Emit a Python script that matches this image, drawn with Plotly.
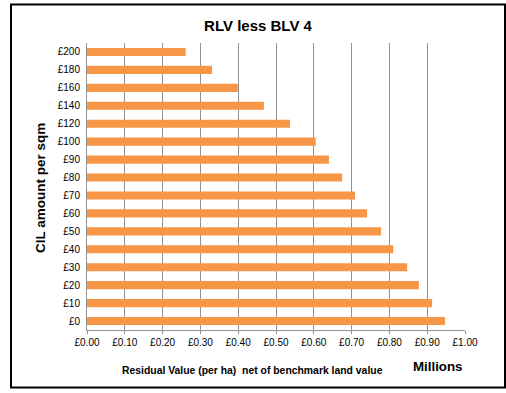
import plotly.graph_objects as go

categories = ["£0", "£10", "£20", "£30", "£40", "£50", "£60", "£70", "£80", "£90",
              "£100", "£120", "£140", "£160", "£180", "£200"]
values = [0.947, 0.913, 0.878, 0.847, 0.810, 0.778, 0.741, 0.709, 0.675, 0.640,
          0.605, 0.537, 0.468, 0.399, 0.331, 0.261]
x_ticks = [0.0, 0.1, 0.2, 0.3, 0.4, 0.5, 0.6, 0.7, 0.8, 0.9, 1.0]
x_tick_labels = ["£0.00", "£0.10", "£0.20", "£0.30", "£0.40", "£0.50", "£0.60",
                 "£0.70", "£0.80", "£0.90", "£1.00"]

L, R, T, B = 87, 465, 43, 330
W, H = 506, 393

def px(x):
    return (x - L) / (R - L)

def py(y):
    return (B - y) / (B - T)

fig = go.Figure(go.Bar(
    x=values, y=categories, orientation="h",
    marker=dict(color="#F79646", line=dict(width=0)),
))

fig.update_layout(
    width=W, height=H,
    margin=dict(l=L, r=W - R, t=T, b=H - B),
    paper_bgcolor="white", plot_bgcolor="white",
    bargap=0.55,
    showlegend=False,
    font=dict(family="Liberation Sans, Arial, sans-serif", color="#000000"),
    title=dict(text="<b>RLV less BLV 4</b>", x=0.5 * (11 + 505) / W, xanchor="center",
               y=1 - 26 / H, yanchor="middle",
               font=dict(size=15, family="Liberation Sans, Arial, sans-serif", color="#000")),
    xaxis=dict(
        range=[0, 1.0], tickvals=x_ticks, ticktext=x_tick_labels,
        showgrid=True, gridcolor="#929292", gridwidth=1,
        showline=True, linecolor="#929292", linewidth=1,
        ticks="outside", ticklen=3, tickcolor="#929292",
        tickfont=dict(size=10, color="#000",
                      family="Liberation Sans Narrow, Arial Narrow, Liberation Sans, sans-serif"),
        zeroline=False, fixedrange=True,
    ),
    yaxis=dict(
        categoryorder="array", categoryarray=categories,
        showgrid=False, showline=True, linecolor="#929292", linewidth=1,
        ticks="outside", ticklen=4, tickcolor="rgba(0,0,0,0)",
        tickfont=dict(size=10, color="#000"),
        range=[-0.5, len(categories) - 0.5],
    ),
    shapes=[dict(type="rect", xref="paper", yref="paper",
                 x0=px(11), x1=px(505), y0=py(387.5), y1=py(4.5),
                 line=dict(color="#000", width=2), fillcolor="rgba(0,0,0,0)", layer="below")],
    annotations=[
        dict(text="<b>CIL amount per sqm</b>", xref="paper", yref="paper",
             x=px(40), y=py(188), textangle=-90, showarrow=False,
             xanchor="center", yanchor="middle", font=dict(size=13.5, color="#000")),
        dict(text="<b>Residual Value (per ha)  net of benchmark land value</b>",
             xref="paper", yref="paper", x=px(252), y=py(370), showarrow=False,
             xanchor="center", yanchor="middle", font=dict(size=10.4, color="#000")),
        dict(text="<b>Millions</b>", xref="paper", yref="paper", x=px(438), y=py(366),
             showarrow=False, xanchor="center", yanchor="middle",
             font=dict(size=13.3, color="#000")),
    ],
)

fig.write_html("out.html", config={"displayModeBar": False},
               post_script="document.body.style.margin='0';document.body.style.overflow='hidden';")
